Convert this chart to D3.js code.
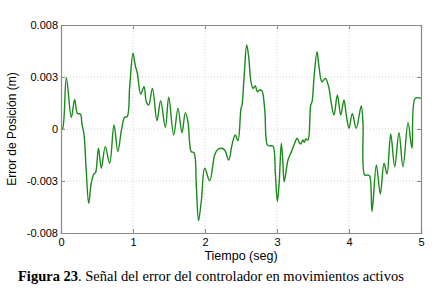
<!DOCTYPE html>
<html><head><meta charset="utf-8">
<script src="https://cdn.jsdelivr.net/npm/d3@7"></script>
<style>body{margin:0;background:#fff}svg{display:block}</style>
</head><body>
<svg id="c" width="436" height="291"></svg>
<script>
// Data: time (s) and position error (m)
const times = [0,0.02,0.074,0.143,0.19,0.226,0.255,0.273,0.29,0.32,0.35,0.385,0.42,0.458,0.48,0.52,0.56,0.615,0.676,0.736,0.79,0.84,0.884,0.92,0.954,1.0,1.03,1.06,1.107,1.153,1.185,1.218,1.27,1.333,1.384,1.449,1.496,1.565,1.625,1.68,1.727,1.764,1.787,1.81,1.847,1.88,1.91,1.95,1.996,2.065,2.134,2.17,2.227,2.273,2.33,2.375,2.42,2.458,2.5,2.514,2.545,2.579,2.607,2.635,2.667,2.699,2.727,2.76,2.79,2.83,2.866,2.9,2.944,2.977,3.005,3.03,3.06,3.08,3.1,3.153,3.2,3.245,3.28,3.31,3.33,3.36,3.38,3.4,3.43,3.468,3.487,3.515,3.556,3.583,3.625,3.671,3.718,3.754,3.792,3.838,3.885,3.93,3.962,4.0,4.046,4.1,4.17,4.194,4.218,4.264,4.288,4.32,4.38,4.435,4.486,4.528,4.579,4.635,4.694,4.75,4.82,4.875,4.92,5.0];
const errors = [0,0,0.0037,0.00084,0.00214,0.00113,0.0011,0.00106,0.0004,-0.00043,-0.00296,-0.00536,-0.0039,-0.00324,-0.00315,-0.00139,-0.00283,-0.00127,-0.00247,0.00029,-0.00163,-0.00007,0.00084,0.00089,0.00305,0.00546,0.00461,0.00402,0.00252,0.00305,0.00197,0.00173,0.00293,0.0006,0.00204,0.00012,0.00229,-0.00043,0.00149,-0.00027,0.00118,0.0005,-0.00103,-0.00164,-0.00171,-0.00416,-0.00661,-0.00512,-0.00283,-0.00373,-0.00187,-0.00151,-0.00139,-0.00151,-0.00224,-0.00115,-0.00043,-0.00084,0.00149,0.00173,0.0039,0.00606,0.00521,0.00353,0.00293,0.0031,0.00269,0.00281,0.00276,0.00137,-0.00115,-0.00122,-0.00122,-0.0032,-0.00524,-0.0039,-0.00103,-0.00224,-0.0038,-0.00224,-0.00164,-0.00103,-0.00067,-0.00099,-0.00108,-0.00079,-0.00096,-0.00072,-0.00079,0.00173,0.00197,0.00377,0.00557,0.00449,0.00341,0.00365,0.00305,0.00185,0.00101,0.00245,0.00101,0.00209,0.00101,0.00005,0.00113,0.00005,0.00166,0.00041,-0.00332,-0.00332,-0.0034,-0.00596,-0.0026,-0.00469,-0.00247,-0.00324,-0.00036,-0.00272,-0.00027,-0.00272,0.00045,-0.00139,0.00221,0.00221];
const xTicks = [0,1,2,3,4,5];
const yTicks = [-0.0075,-0.00375,0,0.00375,0.0075];
const yTickLabels = ["-0.008","-0.003","0","0.003","0.008"];

const svg = d3.select("#c");
const L=61, R=421, T=25, B=233;
const x = d3.scaleLinear().domain([0,5]).range([L,R]);
const y = d3.scaleLinear().domain([-0.0075,0.0075]).range([B,T]);
const frame="#8a8a8a";

// grid
const g = svg.append("g");
g.selectAll(".gx").data(xTicks.slice(1,-1)).enter().append("line")
  .attr("x1",d=>x(d)).attr("x2",d=>x(d)).attr("y1",T).attr("y2",B)
  .attr("stroke","#c8c8c8").attr("stroke-width",0.8).attr("stroke-dasharray","1,2");
g.selectAll(".gy").data(yTicks.slice(1,-1)).enter().append("line")
  .attr("y1",d=>y(d)).attr("y2",d=>y(d)).attr("x1",L).attr("x2",R)
  .attr("stroke","#c8c8c8").attr("stroke-width",0.8).attr("stroke-dasharray","1,2");

// line
const line = d3.line().x((d,i)=>x(times[i])).y(d=>y(d)).curve(d3.curveCatmullRom.alpha(0.5));
svg.append("path").datum(errors).attr("d",line).attr("fill","none")
  .attr("stroke","#1a8a1a").attr("stroke-width",1.4).attr("stroke-linejoin","round");

// axes (ticks inward)
const fmtY = d=>yTickLabels[yTicks.indexOf(d)];
const axB = svg.append("g").attr("transform",`translate(0,${B})`)
  .call(d3.axisBottom(x).tickValues(xTicks).tickSize(-4).tickPadding(5).tickFormat(d3.format("d")));
const axT = svg.append("g").attr("transform",`translate(0,${T})`)
  .call(d3.axisTop(x).tickValues(xTicks).tickSize(-4).tickFormat(""));
const axL = svg.append("g").attr("transform",`translate(${L},0)`)
  .call(d3.axisLeft(y).tickValues(yTicks).tickSize(-4).tickPadding(3).tickFormat(fmtY));
const axR = svg.append("g").attr("transform",`translate(${R},0)`)
  .call(d3.axisRight(y).tickValues(yTicks).tickSize(-4).tickFormat(""));
[axB,axT,axL,axR].forEach(a=>{
  a.selectAll("path").attr("stroke",frame).attr("stroke-width",1.2);
  a.selectAll("line").attr("stroke",frame);
  a.selectAll("text").attr("fill","#000").style("font-family","Liberation Sans, Arial, sans-serif").style("font-size","11px");
});

svg.append("text").attr("x",(L+R)/2).attr("y",259.5).attr("text-anchor","middle")
  .style("font-family","Liberation Sans, Arial, sans-serif").style("font-size","12.5px").text("Tiempo (seg)");
svg.append("text").attr("transform",`translate(16,${(T+B)/2}) rotate(-90)`).attr("text-anchor","middle")
  .style("font-family","Liberation Sans, Arial, sans-serif").style("font-size","12px").text("Error de Posición (m)");

const cap = svg.append("text").attr("x",18).attr("y",281)
  .style("font-family","Liberation Serif, Times New Roman, serif").style("font-size","14.5px");
cap.append("tspan").attr("font-weight","bold").text("Figura 23");
cap.append("tspan").text(". Señal del error del controlador en movimientos activos");
</script>
</body></html>
